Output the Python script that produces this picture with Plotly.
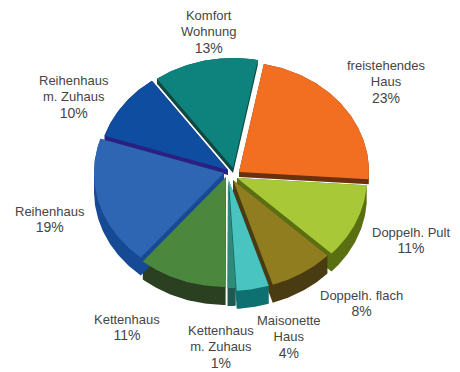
import math
import plotly.graph_objects as go

# Housing types, clockwise from the top of the pie
names = ["freistehendes<br>Haus", "Doppelh. Pult", "Doppelh. flach", "Maisonette<br>Haus",
         "Kettenhaus<br>m. Zuhaus", "Kettenhaus", "Reihenhaus", "Reihenhaus<br>m. Zuhaus",
         "Komfort<br>Wohnung"]
shares = [23, 11, 8, 4, 1, 11, 19, 10, 13]

# Colours of each slice's top face and of its side wall
top_colors = ["#F26F22", "#A8C838", "#8F7D20", "#4AC4C0", "#2E8B7A",
              "#4B873C", "#2E66B4", "#0F4DA0", "#0E837E"]
side_colors = ["#6B3010", "#5A6E12", "#4A3C12", "#0E7070", "#1F5A50",
               "#2A4020", "#164A94", "#2A2080", "#0F4840"]

# Pie geometry in plot units
CX, CY = 232, 175
RX, RY = 130, 110
START = 11
depths = [5, 18, 18, 18, 18, 18, 18, 5, 5]
explode = [(7, -3), (5, 3), (1, 5), (-3, 6), (-4, 3), (-6, 2), (-8, -2), (-4, -5), (1, -7)]

# Label anchor for every slice: centre x, top y
label_pos = [(386, 56), (411, 223), (361, 286), (289, 311), (221, 321),
             (127, 310), (50, 202), (74, 71), (208, 6)]


def wedge(a0, a1, off):
    """Outline of one slice; angles run clockwise from twelve o'clock."""
    ox, oy = CX + off[0], CY + off[1]
    pts = [(ox, oy)]
    n = max(3, int(a1 - a0))
    for i in range(n + 1):
        t = math.radians(a0 + (a1 - a0) * i / n)
        pts.append((ox + RX * math.sin(t), oy - RY * math.cos(t)))
    return pts


def hull(points):
    """Convex hull, used for the extruded body of a slice."""
    pts = sorted(set(points))

    def half(seq):
        out = []
        for p in seq:
            while len(out) > 1 and ((out[-1][0] - out[-2][0]) * (p[1] - out[-2][1])
                                    - (out[-1][1] - out[-2][1]) * (p[0] - out[-2][0])) <= 0:
                out.pop()
            out.append(p)
        return out[:-1]

    return half(pts) + half(pts[::-1])


def poly_trace(pts, color):
    xs = [p[0] for p in pts] + [pts[0][0]]
    ys = [p[1] for p in pts] + [pts[0][1]]
    return go.Scatter(x=xs, y=ys, mode="lines", fill="toself", fillcolor=color,
                      line=dict(width=0, color=color), hoverinfo="skip", showlegend=False)


angle = START
tops, walls = [], []
for share, off, depth, top, side in zip(shares, explode, depths, top_colors, side_colors):
    span = share * 3.6
    outline = wedge(angle, angle + span, off)
    body = hull(outline + [(x, y + depth) for x, y in outline])
    walls.append(poly_trace(body, side))
    tops.append(poly_trace(outline, top))
    angle += span

# Walls first so that every top face stays unobstructed
fig = go.Figure(walls + tops)

for name, share, (x, y) in zip(names, shares, label_pos):
    fig.add_annotation(
        x=x, y=y, xref="x", yref="y", xanchor="center", yanchor="top", showarrow=False,
        align="center",
        text=f'<span style="font-size:13px">{name}</span><br><span style="font-size:14px">{share}%</span>',
        font=dict(family="Liberation Sans", size=12.5, color="#454545"),
    )

fig.update_layout(
    width=460, height=372, margin=dict(l=0, r=0, t=0, b=0),
    paper_bgcolor="white", plot_bgcolor="white", showlegend=False,
    xaxis=dict(range=[0, 460], visible=False, fixedrange=True),
    yaxis=dict(range=[372, 0], visible=False, fixedrange=True),
)
fig.write_html("out.html", config={"displayModeBar": False})
